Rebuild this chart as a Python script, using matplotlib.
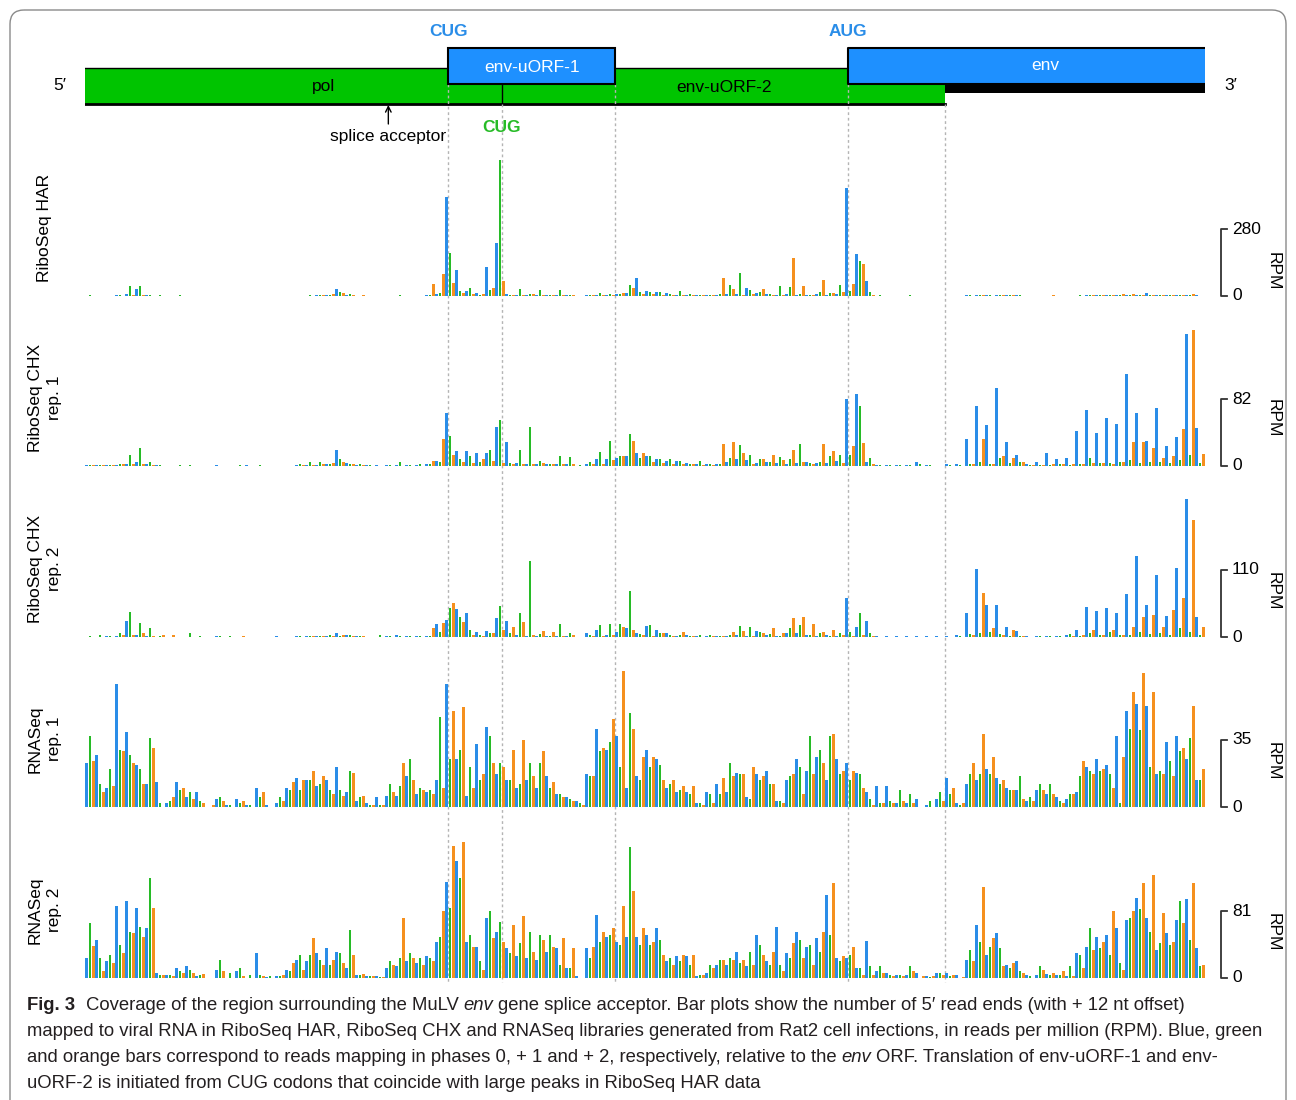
import matplotlib
matplotlib.use('Agg')
import numpy as np
import matplotlib.pyplot as plt
from matplotlib.patches import Rectangle, FancyBboxPatch

W, H = 1296, 1100
plt.rcParams['font.family'] = ['Liberation Sans', 'DejaVu Sans']

# ---- data: reads per codon, phase 0 (blue), +1 (green), +2 (orange) ----
track_names = ['RiboSeq HAR', 'RiboSeq CHX\nrep. 1', 'RiboSeq CHX\nrep. 2', 'RNASeq\nrep. 1', 'RNASeq\nrep. 2']
scale_ticks = [280, 82, 110, 35, 81]

har_blue = [2, 0, 2, 3, 8, 30, 3, 2, 0, 2,
            2, 0, 0, 2, 0, 0, 0, 0, 0, 0,
            0, 2, 2, 3, 4, 30, 5, 2, 2, 0,
            2, 2, 2, 2, 3, 8, 413, 107, 20, 12,
            123, 223, 10, 6, 4, 3, 4, 5, 3, 0,
            4, 5, 6, 10, 12, 74, 20, 15, 12, 6,
            5, 4, 4, 6, 10, 8, 33, 12, 10, 4,
            8, 6, 5, 8, 6, 10, 453, 174, 63, 0,
            0, 2, 0, 0, 0, 0, 0, 0, 3, 5,
            4, 6, 4, 3, 2, 0, 0, 0, 0, 0,
            4, 5, 4, 6, 5, 4, 12, 5, 3, 4,
            5, 3]
har_green = [3, 2, 2, 3, 42, 42, 4, 3, 0, 3,
             2, 0, 0, 2, 0, 0, 0, 0, 0, 0,
             0, 2, 3, 3, 5, 15, 8, 2, 2, 0,
             2, 3, 2, 2, 3, 12, 181, 20, 32, 6,
             25, 568, 5, 30, 8, 26, 4, 25, 6, 0,
             6, 12, 8, 10, 45, 18, 15, 18, 10, 22,
             8, 6, 4, 8, 46, 95, 25, 15, 8, 42,
             38, 8, 6, 15, 12, 46, 20, 146, 15, 3,
             0, 0, 5, 0, 2, 0, 0, 0, 3, 4,
             3, 5, 4, 3, 2, 0, 2, 0, 0, 3,
             5, 4, 6, 4, 5, 6, 4, 3, 4, 5,
             4, 2]
har_orange = [1, 2, 1, 2, 3, 4, 2, 2, 0, 0,
              1, 0, 0, 0, 0, 0, 0, 0, 0, 0,
              0, 2, 2, 3, 8, 12, 4, 3, 2, 0,
              1, 1, 1, 1, 52, 91, 56, 12, 10, 10,
              35, 63, 6, 4, 8, 5, 4, 3, 4, 0,
              3, 4, 5, 12, 35, 10, 8, 6, 4, 3,
              5, 3, 3, 74, 30, 6, 8, 31, 4, 6,
              160, 42, 5, 65, 12, 15, 49, 132, 5, 0,
              0, 0, 0, 0, 0, 0, 0, 0, 2, 3,
              2, 4, 3, 2, 0, 0, 3, 0, 0, 0,
              3, 4, 5, 10, 8, 4, 6, 3, 4, 3,
              10, 2]

chx1_blue = [1, 1, 1, 1, 2, 5, 3, 1, 0, 0,
             0, 0, 0, 1, 0, 0, 1, 0, 0, 0,
             0, 1, 1, 1, 2, 20, 4, 1, 1, 1,
             1, 1, 1, 1, 2, 6, 65, 18, 18, 16,
             16, 48, 29, 4, 3, 2, 3, 2, 2, 0,
             3, 9, 8, 10, 12, 16, 12, 8, 6, 6,
             4, 3, 2, 3, 5, 8, 7, 4, 5, 4,
             3, 4, 5, 4, 4, 6, 82, 88, 5, 1,
             1, 1, 1, 5, 1, 0, 2, 2, 33, 73,
             50, 95, 29, 13, 2, 5, 16, 8, 10, 43,
             68, 41, 59, 51, 113, 65, 31, 71, 24, 36,
             162, 47]
chx1_green = [1, 1, 1, 2, 13, 22, 5, 1, 0, 1,
              1, 0, 0, 0, 0, 1, 0, 1, 0, 0,
              0, 2, 5, 5, 2, 9, 3, 3, 1, 0,
              1, 5, 1, 2, 3, 5, 37, 9, 12, 5,
              20, 56, 4, 20, 48, 6, 3, 12, 11, 1,
              5, 17, 31, 12, 39, 10, 12, 8, 9, 6,
              3, 6, 2, 3, 10, 26, 14, 8, 5, 11,
              9, 27, 4, 5, 12, 14, 14, 73, 10, 1,
              1, 1, 1, 2, 1, 0, 1, 1, 3, 5,
              3, 10, 4, 5, 1, 1, 1, 2, 1, 2,
              10, 4, 4, 5, 7, 4, 5, 5, 4, 7,
              13, 4]
chx1_orange = [1, 1, 1, 2, 3, 2, 1, 0, 0, 0,
               0, 0, 0, 0, 0, 0, 0, 0, 0, 0,
               0, 1, 1, 2, 4, 5, 3, 1, 0, 0,
               0, 0, 0, 0, 6, 33, 14, 5, 4, 8,
               6, 4, 3, 2, 2, 4, 2, 3, 2, 0,
               2, 3, 7, 12, 31, 16, 5, 4, 3, 3,
               2, 1, 1, 27, 29, 16, 3, 9, 13, 7,
               20, 5, 3, 27, 18, 4, 24, 28, 2, 0,
               0, 0, 0, 0, 0, 0, 0, 0, 2, 33,
               3, 12, 10, 5, 1, 1, 2, 2, 3, 3,
               4, 4, 3, 5, 29, 29, 22, 10, 12, 45,
               166, 15]

chx2_blue = [0, 0, 2, 2, 27, 4, 2, 0, 0, 0,
             0, 0, 0, 1, 0, 0, 0, 0, 0, 1,
             0, 1, 1, 1, 2, 7, 3, 1, 0, 0,
             1, 3, 1, 1, 1, 22, 28, 46, 39, 8,
             10, 31, 27, 3, 2, 2, 1, 1, 1, 0,
             7, 12, 3, 8, 14, 6, 18, 12, 7, 2,
             4, 1, 1, 1, 2, 4, 2, 10, 3, 2,
             6, 7, 3, 2, 3, 2, 64, 17, 27, 1,
             1, 1, 1, 1, 1, 1, 2, 3, 39, 112,
             52, 53, 16, 10, 2, 2, 1, 2, 4, 11,
             50, 42, 47, 39, 71, 133, 53, 102, 34, 114,
             227, 33]
chx2_green = [2, 4, 2, 7, 41, 23, 14, 1, 0, 0,
              6, 2, 0, 2, 2, 0, 0, 0, 0, 0,
              0, 1, 2, 2, 3, 2, 4, 1, 0, 4,
              1, 1, 2, 1, 1, 8, 47, 33, 11, 3,
              7, 51, 6, 40, 125, 5, 2, 22, 7, 0,
              4, 19, 22, 21, 76, 5, 19, 7, 3, 4,
              2, 3, 3, 2, 3, 18, 16, 8, 5, 2,
              14, 19, 3, 7, 2, 6, 8, 40, 6, 0,
              0, 0, 0, 0, 0, 0, 0, 1, 5, 7,
              8, 5, 2, 1, 0, 1, 1, 1, 5, 2,
              7, 3, 8, 3, 4, 8, 5, 7, 4, 14,
              8, 3]
chx2_orange = [0, 0, 0, 4, 3, 6, 1, 3, 3, 0,
               0, 0, 0, 0, 0, 1, 0, 0, 0, 0,
               0, 0, 1, 1, 1, 3, 1, 1, 0, 0,
               0, 0, 0, 0, 14, 23, 56, 25, 4, 2,
               7, 11, 17, 25, 4, 10, 8, 2, 3, 0,
               1, 2, 3, 17, 11, 3, 2, 6, 2, 8,
               2, 0, 1, 2, 8, 10, 2, 7, 14, 7,
               31, 33, 22, 8, 11, 3, 2, 3, 1, 0,
               0, 0, 0, 0, 0, 0, 0, 0, 3, 72,
               14, 3, 12, 2, 0, 0, 0, 0, 1, 3,
               11, 4, 12, 3, 17, 33, 36, 17, 44, 64,
               192, 17]

rna1_blue = [23, 27, 10, 64, 39, 22, 12, 13, 2, 13,
             5, 8, 0, 4, 1, 4, 1, 10, 1, 2,
             10, 15, 14, 11, 14, 21, 8, 3, 2, 5,
             6, 6, 16, 7, 8, 14, 64, 25, 6, 33,
             42, 17, 14, 10, 14, 10, 16, 7, 5, 3,
             17, 41, 30, 37, 10, 16, 30, 25, 10, 8,
             8, 2, 8, 12, 8, 18, 5, 17, 19, 3,
             14, 25, 19, 26, 14, 25, 23, 18, 8, 11,
             11, 2, 2, 4, 1, 4, 15, 2, 12, 14,
             20, 15, 10, 9, 3, 9, 7, 5, 4, 8,
             21, 25, 22, 37, 50, 54, 53, 17, 34, 37,
             25, 14]
rna1_green = [37, 12, 20, 30, 27, 20, 36, 2, 3, 9,
              8, 3, 0, 5, 1, 2, 1, 5, 0, 5,
              9, 9, 14, 12, 9, 9, 19, 5, 1, 1,
              12, 11, 25, 10, 9, 47, 25, 30, 21, 14,
              37, 23, 14, 12, 23, 23, 10, 7, 4, 2,
              16, 29, 34, 21, 49, 14, 21, 22, 12, 9,
              7, 2, 7, 7, 23, 17, 4, 14, 12, 3,
              16, 21, 37, 30, 37, 17, 14, 17, 4, 2,
              3, 9, 7, 0, 3, 8, 7, 1, 17, 17,
              17, 12, 9, 16, 5, 12, 12, 3, 7, 16,
              19, 19, 17, 2, 41, 40, 21, 19, 24, 29,
              36, 14]
rna1_orange = [24, 8, 11, 29, 23, 12, 31, 0, 5, 10,
               4, 2, 1, 3, 0, 3, 0, 8, 0, 3,
               13, 14, 19, 16, 7, 6, 18, 6, 1, 1,
               8, 23, 14, 9, 7, 10, 50, 52, 10, 17,
               23, 21, 30, 35, 16, 29, 13, 5, 3, 1,
               16, 31, 46, 71, 41, 26, 26, 14, 14, 11,
               11, 1, 2, 15, 16, 17, 21, 16, 12, 2,
               17, 7, 17, 23, 38, 19, 19, 10, 1, 2,
               2, 3, 2, 0, 0, 3, 10, 2, 23, 38,
               26, 14, 9, 4, 3, 9, 7, 2, 7, 24,
               17, 20, 10, 26, 60, 70, 60, 17, 16, 31,
               53, 20]

rna2_blue = [24, 46, 20, 87, 93, 85, 60, 6, 4, 12,
             15, 2, 0, 10, 0, 9, 0, 30, 1, 3,
             10, 22, 20, 30, 36, 32, 12, 4, 3, 3,
             12, 14, 20, 18, 26, 44, 116, 142, 44, 38,
             72, 56, 36, 26, 24, 22, 32, 36, 12, 2,
             36, 76, 50, 44, 50, 50, 52, 60, 20, 26,
             26, 2, 6, 16, 16, 32, 14, 52, 20, 62,
             30, 56, 38, 48, 100, 24, 24, 12, 45, 8,
             6, 4, 4, 6, 2, 6, 6, 4, 22, 64,
             28, 54, 16, 20, 4, 4, 5, 4, 3, 30,
             38, 50, 52, 60, 70, 97, 72, 34, 54, 70,
             95, 36]
rna2_green = [66, 24, 28, 40, 56, 62, 121, 4, 4, 8,
              10, 4, 0, 22, 6, 12, 4, 4, 3, 3,
              8, 28, 28, 22, 16, 30, 58, 4, 3, 1,
              20, 24, 30, 24, 24, 50, 85, 121, 52, 20,
              81, 68, 30, 42, 56, 52, 52, 16, 12, 0,
              24, 44, 52, 40, 158, 40, 40, 46, 24, 20,
              16, 4, 16, 22, 24, 18, 32, 40, 16, 16,
              24, 46, 40, 32, 52, 20, 28, 12, 14, 14,
              4, 4, 14, 0, 1, 6, 2, 0, 34, 44,
              38, 36, 12, 8, 2, 14, 4, 4, 14, 28,
              60, 36, 28, 18, 72, 84, 56, 42, 40, 93,
              46, 14]
rna2_orange = [39, 8, 18, 30, 54, 50, 85, 4, 3, 6,
               6, 5, 0, 8, 0, 3, 0, 2, 0, 4,
               18, 10, 48, 16, 22, 18, 28, 5, 2, 1,
               16, 73, 24, 16, 20, 81, 159, 164, 38, 10,
               48, 44, 64, 75, 32, 46, 38, 48, 36, 0,
               38, 56, 60, 87, 105, 60, 44, 28, 16, 28,
               28, 4, 12, 22, 22, 22, 16, 28, 32, 8,
               42, 24, 16, 56, 115, 26, 38, 4, 4, 6,
               2, 2, 8, 2, 2, 4, 4, 1, 20, 110,
               48, 14, 18, 6, 0, 10, 6, 8, 2, 12,
               34, 44, 81, 10, 81, 115, 124, 78, 44, 66,
               115, 16]

track_data = [(har_blue, har_green, har_orange),
              (chx1_blue, chx1_green, chx1_orange),
              (chx2_blue, chx2_green, chx2_orange),
              (rna1_blue, rna1_green, rna1_orange),
              (rna2_blue, rna2_green, rna2_orange)]

# region features, in nt from left end of the plotted region
region_len = 336
pol_start, uorf2_cug, uorf2_end = 0, 125, 258
uorf1_cug, uorf1_end = 109, 159
env_aug = 229
splice_acceptor = 91

blue, green, orange = '#2a8de8', '#27bb27', '#f5901e'
box_blue, box_green = '#1e90ff', '#00c400'

# ---- layout (pixels) ----
plot_x0, plot_x1 = 85, 1205
baselines = [296, 466, 637, 807, 978]
track_h = 150
tick_px = 67
rpm_dy = [-25, -48, -46, -46, -46]


def fbox(x0, y0, x1, y1):
    return [x0 / W, 1 - y1 / H, (x1 - x0) / W, (y1 - y0) / H]


fig = plt.figure(figsize=(W / 100, H / 100), dpi=100)

# background axes: gene map and dotted guide lines, y in pixels
bg = fig.add_axes(fbox(plot_x0, 0, plot_x1, 985))
bg.set_xlim(0, region_len)
bg.set_ylim(985, 0)
bg.axis('off')

guides = [(uorf1_cug, 84), (uorf2_cug, 104), (uorf1_end, 84), (env_aug, 84), (uorf2_end, 104)]
for gx, gy in guides:
    bg.plot([gx, gx], [gy, 982], color='#b4b4b4', lw=1, ls=(0, (2, 2)))

# green frame (pol / env-uORF-2) underneath
bg.add_patch(Rectangle((pol_start, 68), uorf2_end - pol_start, 36, fc=box_green, ec='none', zorder=1))
bg.plot([pol_start, uorf2_end], [68, 68], color='k', lw=1, zorder=1.5)
bg.plot([pol_start, uorf2_end], [104, 104], color='k', lw=2, zorder=1.5)
bg.add_patch(Rectangle((uorf2_end, 84), region_len - uorf2_end, 9, fc='k', ec='none', zorder=1))
bg.plot([uorf2_cug, uorf2_cug], [84, 104], color='k', lw=1, zorder=1.5)
# blue frame on top
bg.add_patch(Rectangle((uorf1_cug, 48), uorf1_end - uorf1_cug, 36, fc=box_blue, ec='k', lw=1.5, zorder=3))
bg.add_patch(Rectangle((env_aug, 48), region_len - env_aug, 36, fc=box_blue, ec='none', zorder=3))
bg.plot([region_len, env_aug, env_aug, region_len], [48, 48, 84, 84], color='k', lw=1.5, zorder=3.5)

fs = 12.5
bg.text(71.7, 86, 'pol', ha='center', va='center', fontsize=fs, zorder=4)
bg.text(191.7, 87, 'env-uORF-2', ha='center', va='center', fontsize=fs, zorder=4)
bg.text((uorf1_cug + uorf1_end) / 2, 67, 'env-uORF-1', ha='center', va='center', fontsize=fs,
        color='white', zorder=4)
bg.text(288, 66, 'env', ha='center', va='center', fontsize=fs, color='white', zorder=4)
bg.text(uorf1_cug, 31, 'CUG', ha='center', va='center', fontsize=fs, color=blue, fontweight='bold')
bg.text(env_aug, 31, 'AUG', ha='center', va='center', fontsize=fs, color=blue, fontweight='bold')
bg.text(uorf2_cug, 127, 'CUG', ha='center', va='center', fontsize=fs, color=green, fontweight='bold')
bg.text(-7.5, 86, '5\u2032', ha='center', va='center', fontsize=fs, clip_on=False)
bg.text(343.8, 86, '3\u2032', ha='center', va='center', fontsize=fs, clip_on=False)
bg.annotate('', xy=(splice_acceptor, 105), xytext=(splice_acceptor, 124),
            arrowprops=dict(arrowstyle='->', lw=1, color='k', shrinkA=0, shrinkB=0))
bg.text(splice_acceptor, 136, 'splice acceptor', ha='center', va='center', fontsize=fs)

# ---- bar tracks ----
codon = np.arange(len(har_blue)) * 3
for i, (name, tick, base) in enumerate(zip(track_names, scale_ticks, baselines)):
    ax = fig.add_axes(fbox(plot_x0, base - track_h, plot_x1, base))
    ax.set_xlim(0, region_len)
    ax.set_ylim(0, tick * track_h / tick_px)
    ax.axis('off')
    ax.patch.set_visible(False)
    for p, (vals, col) in enumerate(zip(track_data[i], [blue, green, orange])):
        ax.bar(codon + p + 0.5, vals, width=0.8, color=col, linewidth=0)

    # scale bar on the right
    tr = ax.get_yaxis_transform()
    bx = (1221 - plot_x0) / (plot_x1 - plot_x0)
    tx = (1227 - plot_x0) / (plot_x1 - plot_x0)
    ax.plot([tx, bx, bx, tx], [tick, tick, 0, 0], color='#333333', lw=1.3,
            transform=tr, clip_on=False)
    lx = (1232 - plot_x0) / (plot_x1 - plot_x0)
    ax.text(lx, tick, str(tick), transform=tr, ha='left', va='center', fontsize=fs)
    ax.text(lx, 0, '0', transform=tr, ha='left', va='center', fontsize=fs)

    fig.text(1273 / W, 1 - (base + rpm_dy[i]) / H, 'RPM', rotation=-90,
             ha='center', va='center', fontsize=fs)
    fig.text(45 / W, 1 - (base - 68) / H, name, rotation=90, ha='center',
             va='center', fontsize=fs, multialignment='center', linespacing=1.35)

# ---- frame and caption ----
ov = fig.add_axes([0, 0, 1, 1])
ov.set_xlim(0, W)
ov.set_ylim(H, 0)
ov.axis('off')
ov.patch.set_visible(False)
ov.add_patch(FancyBboxPatch((10, 10), W - 20, H + 40,
                            boxstyle='round,pad=0,rounding_size=14',
                            fc='none', ec='#8a8a8a', lw=1, clip_on=False))

cap_font = ['Liberation Sans Narrow', 'Liberation Sans', 'DejaVu Sans']
cap_lines = [
    [('Fig. 3', 'b'), ('Coverage of the region surrounding the MuLV', ''), ('env', 'i'),
     ('gene splice acceptor. Bar plots show the number of 5\u2032 read ends (with + 12 nt offset)', '')],
    [('mapped to viral RNA in RiboSeq HAR, RiboSeq CHX and RNASeq libraries generated from Rat2 '
      'cell infections, in reads per million (RPM). Blue, green', '')],
    [('and orange bars correspond to reads mapping in phases 0, + 1 and + 2, respectively, relative to the', ''),
     ('env', 'i'), ('ORF. Translation of env-uORF-1 and env-', '')],
    [('uORF-2 is initiated from CUG codons that coincide with large peaks in RiboSeq HAR data', '')],
]
cap_y = [1005, 1031, 1058, 1084]
renderer = fig.canvas.get_renderer()


def draw_line(runs, y, size, draw=True):
    x = 27
    gap = size * 100 / 72 * 0.26
    items = []
    for j, (s, st) in enumerate(runs):
        kw = {'fontweight': 'bold'} if st == 'b' else {}
        if st == 'i':
            kw['fontstyle'] = 'italic'
        t = ov.text(x, y, s, fontsize=size, family=cap_font, ha='left', va='center',
                    color='#231f20', **kw)
        w = t.get_window_extent(renderer=renderer).width
        items.append(t)
        x += w + (gap * 2.2 if st == 'b' else gap)
    if not draw:
        for t in items:
            t.remove()
    return x - 27


# fit caption size to the reference width of the second line
probe = draw_line(cap_lines[1], cap_y[1], 10, draw=False)
cap_size = 10 * 1244 / probe
for runs, y in zip(cap_lines, cap_y):
    draw_line(runs, y, cap_size)

fig.savefig('out.png', dpi=100)
